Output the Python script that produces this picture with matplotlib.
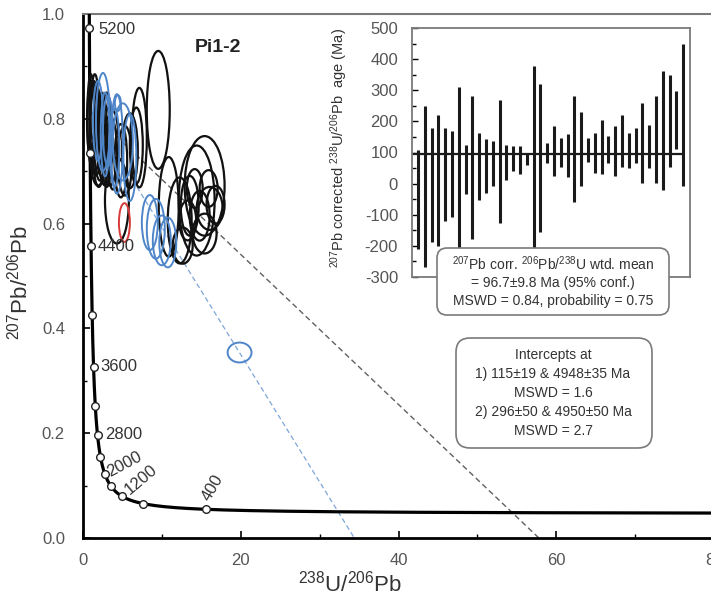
import numpy as np
import matplotlib
matplotlib.use('Agg')
import matplotlib.pyplot as plt
from matplotlib.patches import Ellipse, FancyBboxPatch

plt.rcParams['font.family'] = ['Liberation Sans', 'DejaVu Sans']
plt.rcParams['mathtext.default'] = 'regular'
plt.rcParams['axes.unicode_minus'] = False

# concordia marker ages (Ma) and the ones that carry a label
marker_ages = [400, 800, 1200, 1600, 2000, 2400, 2800, 3200, 3600, 4000, 4400, 4800, 5200]
label_ages = [400, 1200, 2000, 2800, 3600, 4400, 5200]
lam238 = 1.55125e-10
lam235 = 9.8485e-10
u_ratio = 137.88

# black ellipses: centre x, centre y, full width, full height (data units)
blk_x = [9.54, 15.42, 14.41, 10.87, 12.26, 16.81, 15.93, 14.16, 13.27, 15.42, 12.64, 16.06, 14.79, 13.53,
         7.14, 6.76, 4.30, 1.14, 1.64, 2.15, 1.39, 2.78, 3.41, 5.94, 5.31, 1.90,
         1.00, 1.50, 2.40, 3.00, 3.80, 2.00, 4.80]
blk_y = [0.817, 0.672, 0.644, 0.632, 0.606, 0.636, 0.667, 0.667, 0.606, 0.581, 0.558, 0.629, 0.615, 0.634,
         0.764, 0.749, 0.644, 0.796, 0.777, 0.758, 0.815, 0.749, 0.739, 0.739, 0.720, 0.720,
         0.800, 0.790, 0.770, 0.760, 0.740, 0.730, 0.720]
blk_w = [2.91, 5.06, 4.55, 2.53, 3.03, 2.28, 2.28, 2.02, 2.15, 3.03, 2.53, 3.29, 2.53, 2.28,
         1.90, 1.64, 3.03, 1.26, 1.52, 1.52, 1.01, 1.77, 1.77, 2.02, 1.77, 1.77,
         0.90, 1.20, 1.30, 1.40, 1.50, 1.40, 1.60]
blk_h = [0.225, 0.190, 0.210, 0.190, 0.164, 0.072, 0.070, 0.074, 0.076, 0.076, 0.069, 0.082, 0.095, 0.114,
         0.190, 0.145, 0.164, 0.152, 0.171, 0.152, 0.114, 0.152, 0.133, 0.143, 0.133, 0.095,
         0.170, 0.190, 0.160, 0.180, 0.150, 0.120, 0.140]

# blue ellipses
blu_x = [2.53, 4.30, 5.06, 5.94, 8.47, 9.23, 9.99, 10.75, 19.85, 4.42, 1.90, 3.16, 2.80, 4.00]
blu_y = [0.794, 0.752, 0.756, 0.726, 0.602, 0.590, 0.568, 0.564, 0.354, 0.830, 0.796, 0.777, 0.770, 0.745]
blu_w = [1.77, 1.52, 2.53, 1.64, 2.02, 2.28, 2.28, 2.15, 3.03, 0.76, 1.26, 1.26, 1.10, 1.20]
blu_h = [0.187, 0.190, 0.147, 0.166, 0.105, 0.114, 0.095, 0.095, 0.038, 0.030, 0.152, 0.133, 0.160, 0.150]

# red ellipse
red_x, red_y, red_w, red_h = [5.25], [0.602], [1.39], [0.074]

# discordia lines (x, y end points)
disc1_x = [0.87, 57.8]
disc1_y = [0.815, 0.0]
disc2_x = [0.87, 34.4]
disc2_y = [0.815, 0.0]

# inset: 207Pb corrected ages, low and high end of each error bar (Ma)
bar_hi = [109, 250, 179, 219, 179, 169, 309, 125, 280, 163, 144, 138, 268, 125, 122, 122, 100, 379, 320, 132,
          185, 145, 158, 281, 230, 147, 163, 206, 153, 185, 222, 163, 179, 260, 188, 281, 361, 349, 298, 449]
bar_lo = [-209, -268, -187, -201, -121, -107, -240, -33, -177, -53, -29, -9, -128, 12, 39, 32, 61, -240, -155, 65,
          25, 55, 20, -58, -9, 70, 35, 30, 66, 23, 55, 50, 66, 1, 50, 1, -20, 55, 112, -9]
wtd_mean = 96.7

fig = plt.figure(figsize=(7.11, 5.99), dpi=100)
ax = fig.add_axes([83 / 711, 1 - 538 / 599, 631 / 711, 524 / 599])

# concordia curve
t = np.linspace(70e6, 5400e6, 800)
cx = 1 / (np.exp(lam238 * t) - 1)
cy = (np.exp(lam235 * t) - 1) / (u_ratio * (np.exp(lam238 * t) - 1))
ax.plot(cx, cy, color='black', lw=2.3, zorder=3)

ma = np.array(marker_ages) * 1e6
mx = 1 / (np.exp(lam238 * ma) - 1)
my = (np.exp(lam235 * ma) - 1) / (u_ratio * (np.exp(lam238 * ma) - 1))
ax.plot(mx, my, 'o', ms=5.5, mfc='white', mec='#222222', mew=1.0, zorder=6, clip_on=False)

label_style = {400: (2.7, 5.3, 60, 'baseline'), 1200: (5.8, 0.7, 40, 'baseline'),
               2000: (4.2, -2.6, 28, 'baseline'), 2800: (5.4, 0, 0, 'center'),
               3600: (4.6, 0, 0, 'center'), 4400: (4.5, 0, 0, 'center'), 5200: (6.5, -1.4, 0, 'center')}
for age in label_ages:
    i = marker_ages.index(age)
    dx, dy, rot, va = label_style[age]
    ax.annotate(str(age), (mx[i], my[i]), xytext=(dx, dy), textcoords='offset points',
                rotation=rot, rotation_mode='anchor', ha='left', va=va,
                fontsize=12, color='#333333', zorder=7)

# discordia lines
ax.plot(disc1_x, disc1_y, color='#606060', lw=1.0, ls=(0, (4, 2.5)), zorder=2)
ax.plot(disc2_x, disc2_y, color='#7ea6d8', lw=0.9, ls=(0, (4, 2.5)), zorder=2)

for xs, ys, ws, hs, col, lw in [(blk_x, blk_y, blk_w, blk_h, '#111111', 1.6),
                                (blu_x, blu_y, blu_w, blu_h, '#4f86c9', 1.4),
                                (red_x, red_y, red_w, red_h, '#d93a3a', 1.4)]:
    for x0, y0, w0, h0 in zip(xs, ys, ws, hs):
        ax.add_patch(Ellipse((x0, y0), w0, h0, fill=False, edgecolor=col, lw=lw, zorder=4))

ax.set_xlim(0, 80)
ax.set_ylim(0, 1.0)
ax.set_xticks([0, 20, 40, 60, 80])
ax.set_xticks([10, 30, 50, 70], minor=True)
ax.set_yticks(np.arange(0, 1.01, 0.2))
ax.set_yticks(np.arange(0.1, 1.0, 0.2), minor=True)
ax.set_yticklabels(['0.0', '0.2', '0.4', '0.6', '0.8', '1.0'])
ax.tick_params(which='both', direction='in', colors='black', labelcolor='#555555', labelsize=12)
ax.tick_params(which='major', length=5, width=1.2)
ax.tick_params(which='minor', length=3, width=1.0)
ax.tick_params(axis='y', pad=13)
ax.tick_params(axis='x', pad=11)
ax.spines['left'].set_linewidth(2.0)
ax.spines['bottom'].set_linewidth(2.0)
ax.spines['top'].set_color('#7a7a7a')
ax.spines['top'].set_linewidth(1.5)
ax.spines['right'].set_visible(False)

ax.set_xlabel(r'$^{238}$U/$^{206}$Pb', fontsize=16, color='#333333', va='center')
ax.xaxis.set_label_coords(0.423, -0.086)
ax.set_ylabel(r'$^{207}$Pb/$^{206}$Pb', fontsize=16, color='#333333', va='center')
ax.yaxis.set_label_coords(-0.0998, 0.4885)

ax.text(0.214, 0.937, 'Pi1-2', transform=ax.transAxes, fontsize=14, fontweight='bold',
        ha='center', va='center', color='#222222')

# inset weighted mean plot
ins = fig.add_axes([412 / 711, 1 - 277 / 599, 278 / 711, 249 / 599])
idx = np.arange(1, len(bar_hi) + 1)
ins.vlines(idx, bar_lo, bar_hi, color='#1a1a1a', lw=2.2)
ins.hlines(wtd_mean, 0.12, idx[-1], color='#1a1a1a', lw=1.6)
ins.set_xlim(0.12, 41.0)
ins.set_ylim(-300, 500)
ins.set_xticks([])
ins.set_yticks(np.arange(-300, 501, 100))
ins.set_yticks(np.arange(-250, 500, 100), minor=True)
ins.tick_params(axis='y', which='both', direction='in', labelsize=12, labelcolor='#555555', pad=10)
ins.tick_params(axis='y', which='major', length=4, width=1.0)
ins.tick_params(axis='y', which='minor', length=3, width=1.0)
for sp in ins.spines.values():
    sp.set_color('#7a7a7a')
    sp.set_linewidth(1.3)
ins.set_ylabel(r'$^{207}$Pb corrected $^{238}$U/$^{206}$Pb  age (Ma)', fontsize=10.5, color='#333333', va='center')
ins.yaxis.set_label_coords(-0.263, 0.518)

# overlay in pixel coordinates for the text boxes
ov = fig.add_axes([0, 0, 1, 1])
ov.set_xlim(0, 711)
ov.set_ylim(599, 0)
ov.axis('off')

ov.add_patch(FancyBboxPatch((437, 248), 232, 67, boxstyle='round,pad=0,rounding_size=10',
                            facecolor='white', edgecolor='#7a7a7a', lw=1.2))
ov.text(553, 281, '$^{207}$Pb corr. $^{206}$Pb/$^{238}$U wtd. mean\n= 96.7±9.8 Ma (95% conf.)\n'
        'MSWD = 0.84, probability = 0.75', ha='center', va='center', ma='center',
        fontsize=10, linespacing=1.3, color='#333333')

ov.add_patch(FancyBboxPatch((456, 338), 196, 110, boxstyle='round,pad=0,rounding_size=14',
                            facecolor='white', edgecolor='#7a7a7a', lw=1.2))
ov.text(553, 393, 'Intercepts at\n1) 115±19 & 4948±35 Ma\nMSWD = 1.6\n2) 296±50 & 4950±50 Ma\nMSWD = 2.7',
        ha='center', va='center', ma='center', fontsize=10, linespacing=1.45, color='#333333')

fig.savefig('out.png', dpi=100)
